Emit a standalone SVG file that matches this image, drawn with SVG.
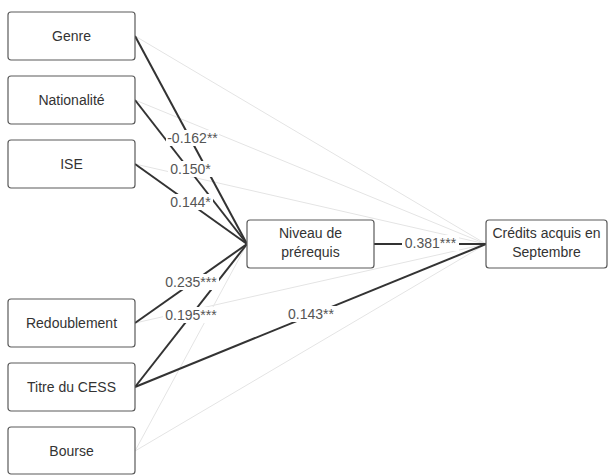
<svg xmlns="http://www.w3.org/2000/svg" width="609" height="476" viewBox="0 0 609 476">
  <style>
    .box { fill: #fff; stroke: #5a5a5a; stroke-width: 1.2; }
    .txt { font-family: "Liberation Sans", Arial, sans-serif; font-size: 14px; fill: #333; text-anchor: middle; dominant-baseline: central; }
    .lbl { font-family: "Liberation Sans", Arial, sans-serif; font-size: 14px; fill: #555; text-anchor: middle; dominant-baseline: central; }
    .lblbg { fill: #fff; }
    .strong { stroke: #333; stroke-width: 2; fill: none; }
    .weak { stroke: #e4e4e4; stroke-width: 1; fill: none; }
  </style>
  <rect width="609" height="476" fill="#fff"/>

  <!-- connectors -->
  <g id="connectors">
    <!-- non-significant paths to the outcome -->
    <line class="weak" x1="135" y1="36" x2="486" y2="244"/>
    <line class="weak" x1="135" y1="100" x2="486" y2="244"/>
    <line class="weak" x1="135" y1="164" x2="486" y2="244"/>
    <line class="weak" x1="135" y1="323" x2="486" y2="244"/>
    <line class="weak" x1="135" y1="451" x2="486" y2="244"/>
    <line class="weak" x1="135" y1="451" x2="247" y2="244"/>

    <!-- significant paths -->
    <line class="strong" x1="135" y1="36" x2="247" y2="244"/>
    <line class="strong" x1="135" y1="100" x2="247" y2="244"/>
    <line class="strong" x1="135" y1="164" x2="247" y2="244"/>
    <line class="strong" x1="135" y1="323" x2="247" y2="244"/>
    <line class="strong" x1="135" y1="387" x2="247" y2="244"/>
    <line class="strong" x1="135" y1="387" x2="486" y2="244"/>
    <line class="strong" x1="374" y1="244" x2="486" y2="244"/>

    <!-- coefficient labels -->
    <g>
      <rect class="lblbg" x="166" y="130" width="53" height="16"/>
      <text class="lbl" x="192.5" y="138">-0.162**</text>
      <rect class="lblbg" x="168" y="161" width="45" height="16"/>
      <text class="lbl" x="190.5" y="169">0.150*</text>
      <rect class="lblbg" x="168" y="194" width="45" height="16"/>
      <text class="lbl" x="190.5" y="202">0.144*</text>
      <rect class="lblbg" x="163" y="274" width="56" height="16"/>
      <text class="lbl" x="191" y="282">0.235***</text>
      <rect class="lblbg" x="163" y="307" width="56" height="16"/>
      <text class="lbl" x="191" y="315">0.195***</text>
      <rect class="lblbg" x="285" y="306" width="52" height="16"/>
      <text class="lbl" x="311" y="314">0.143**</text>
      <rect class="lblbg" x="402" y="235" width="57" height="16"/>
      <text class="lbl" x="430.5" y="243">0.381***</text>
    </g>
  </g>

  <!-- predictor nodes -->
  <g id="genre">
    <rect class="box" x="8" y="12" width="127" height="48" rx="3"/>
    <text class="txt" x="71.5" y="36">Genre</text>
  </g>
  <g id="nationalite">
    <rect class="box" x="8" y="76" width="127" height="48" rx="3"/>
    <text class="txt" x="71.5" y="100">Nationalité</text>
  </g>
  <g id="ise">
    <rect class="box" x="8" y="140" width="127" height="48" rx="3"/>
    <text class="txt" x="71.5" y="164">ISE</text>
  </g>
  <g id="redoublement">
    <rect class="box" x="8" y="299" width="127" height="48" rx="3"/>
    <text class="txt" x="71.5" y="323">Redoublement</text>
  </g>
  <g id="titre-cess">
    <rect class="box" x="8" y="363" width="127" height="48" rx="3"/>
    <text class="txt" x="71.5" y="387">Titre du CESS</text>
  </g>
  <g id="bourse">
    <rect class="box" x="8" y="427" width="127" height="47" rx="3"/>
    <text class="txt" x="71.5" y="451">Bourse</text>
  </g>

  <!-- mediator -->
  <g id="niveau-prerequis">
    <rect class="box" x="247" y="220" width="127" height="48" rx="3"/>
    <text class="txt" x="310.5" y="233">Niveau de</text>
    <text class="txt" x="310.5" y="252">prérequis</text>
  </g>

  <!-- outcome -->
  <g id="credits-septembre">
    <rect class="box" x="486" y="220" width="121" height="48" rx="3"/>
    <text class="txt" x="546.5" y="233">Crédits acquis en</text>
    <text class="txt" x="546.5" y="252">Septembre</text>
  </g>
</svg>
